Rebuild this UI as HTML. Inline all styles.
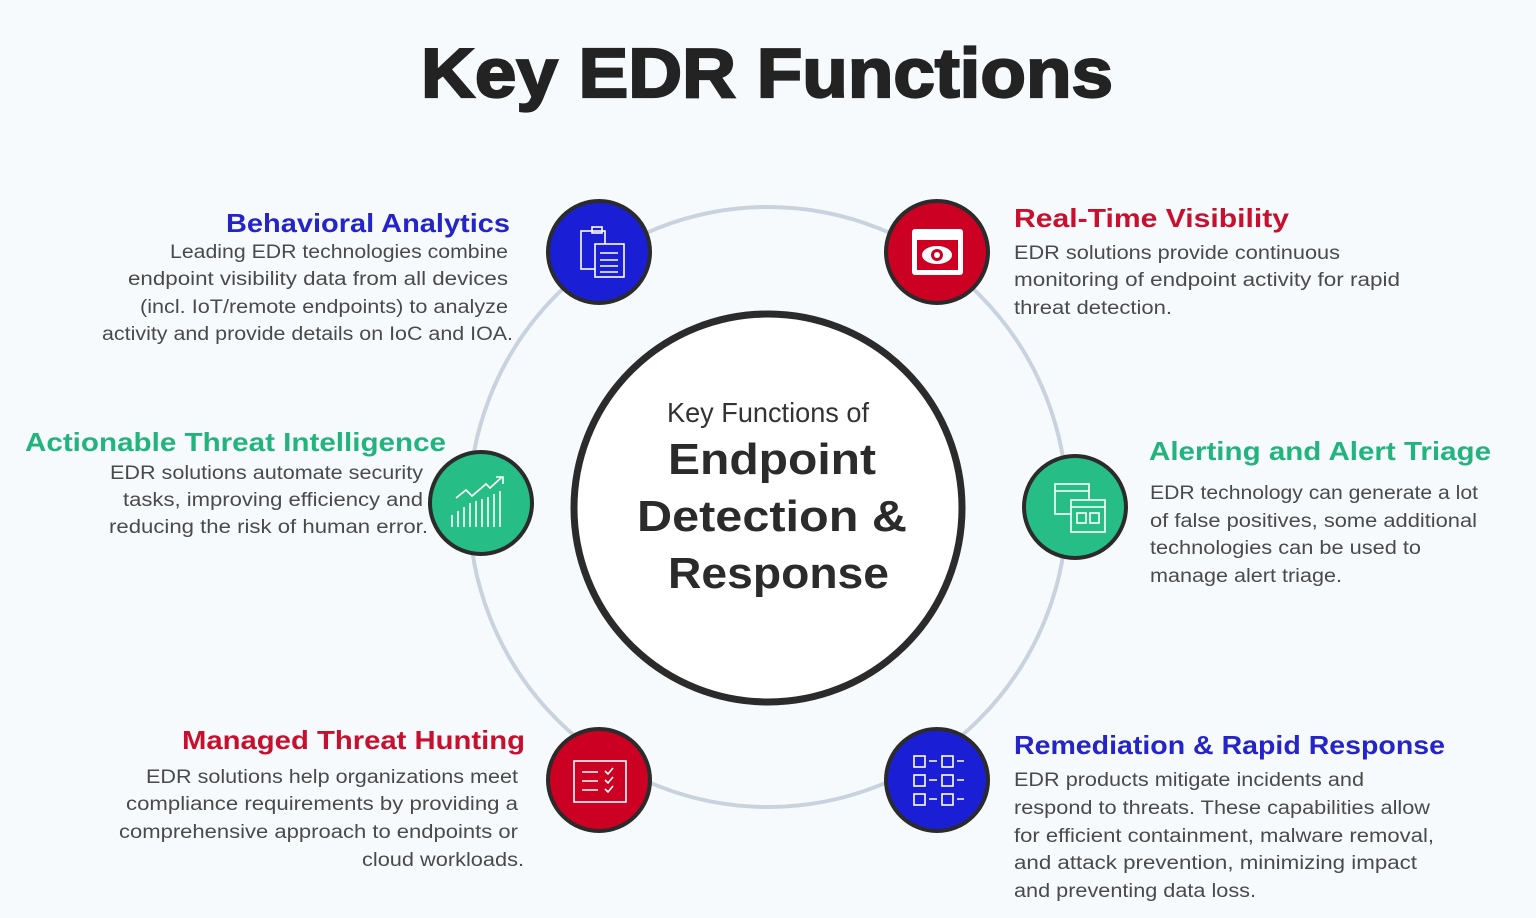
<!DOCTYPE html>
<html><head><meta charset="utf-8"><style>
html,body{margin:0;padding:0;background:#f7fafd;}
svg{display:block}
.b{font-family:"Liberation Sans",sans-serif;font-size:19px;fill:#4a4a4a;}
.h{font-family:"Liberation Sans",sans-serif;font-size:26px;font-weight:bold;}
</style></head><body>
<svg width="1536" height="918" viewBox="0 0 1536 918" xmlns="http://www.w3.org/2000/svg">
<rect width="1536" height="918" fill="#f7fafd"/>
<text x="421" y="97" textLength="692" lengthAdjust="spacingAndGlyphs" font-family="Liberation Sans,sans-serif" font-weight="bold" font-size="70" fill="#232323" stroke="#232323" stroke-width="2.2">Key EDR Functions</text>
<ellipse cx="768" cy="507" rx="299" ry="300" fill="none" stroke="#c9d3de" stroke-width="4"/>
<circle cx="768" cy="508" r="194" fill="#fff" stroke="#2b2b2b" stroke-width="7"/>
<text x="768" y="422" text-anchor="middle" font-family="Liberation Sans,sans-serif" font-size="28" fill="#333" textLength="202" lengthAdjust="spacingAndGlyphs">Key Functions of</text>
<g font-family="Liberation Sans,sans-serif" font-weight="bold" font-size="44" fill="#2b2b2b">
<text x="668" y="474" textLength="208" lengthAdjust="spacingAndGlyphs">Endpoint</text>
<text x="637" y="531" textLength="270" lengthAdjust="spacingAndGlyphs">Detection &amp;</text>
<text x="668" y="588" textLength="221" lengthAdjust="spacingAndGlyphs">Response</text>
</g>
<g stroke="#2b2b2b" stroke-width="4">
<circle cx="599" cy="252" r="51" fill="#1a1fd6"/>
<circle cx="937" cy="252" r="51" fill="#cc0022"/>
<circle cx="481" cy="503" r="51" fill="#26bd86"/>
<circle cx="1075" cy="507" r="51" fill="#26bd86"/>
<circle cx="599" cy="780" r="51" fill="#cc0022"/>
<circle cx="937" cy="780" r="51" fill="#1a1fd6"/>
</g>
<g fill="none" stroke="#fff" stroke-width="1.6">
<rect x="581" y="231" width="24" height="38"/><rect x="592" y="227" width="10" height="6"/>
<rect x="595" y="244" width="29" height="33" fill="#1a1fd6"/>
<path d="M600 253h18M600 260h18M600 266h18M600 272h18"/>
<path d="M452 527v-12M458 527v-16M464 527v-20M470 527v-24M476 527v-26M482 527v-28M488 527v-30M494 527v-33M500 527v-36M456 498l10-8 6 6 14-12 4 4 12-11M496 477h7v7"/>
<rect x="1055" y="484" width="34" height="30"/><path d="M1055 491h34"/>
<rect x="1071" y="500" width="34" height="32" fill="#26bd86"/><path d="M1071 507h34"/>
<rect x="1077" y="513" width="9" height="10"/><rect x="1090" y="513" width="9" height="10"/>
<rect x="574" y="761" width="52" height="41"/><path d="M582 772h16M582 781h16M582 790h16M605 771l3 3 5-6M605 780l3 3 5-6M605 789l3 3 5-6"/>
<g><rect x="914" y="756" width="11" height="11"/><rect x="942" y="756" width="11" height="11"/>
<rect x="914" y="775" width="11" height="11"/><rect x="942" y="775" width="11" height="11"/>
<rect x="914" y="794" width="11" height="11"/><rect x="942" y="794" width="11" height="11"/>
<path d="M929 761h8M957 761h7M929 780h8M957 780h7M929 799h8M957 799h7"/></g>
</g>
<rect x="912" y="229" width="51" height="46" rx="3" fill="#fff"/>
<rect x="917" y="240" width="41" height="30" fill="#cc0022"/>
<ellipse cx="937" cy="255" rx="15" ry="9" fill="#fff"/><circle cx="937" cy="255" r="6" fill="#cc0022"/><circle cx="937" cy="255" r="3" fill="#fff"/>
<text class="h" x="226" y="232" fill="#2424c8" textLength="284" lengthAdjust="spacingAndGlyphs">Behavioral Analytics</text>
<g class="b">
<text x="170" y="258" textLength="338" lengthAdjust="spacingAndGlyphs">Leading EDR technologies combine</text>
<text x="128" y="285" textLength="380" lengthAdjust="spacingAndGlyphs">endpoint visibility data from all devices</text>
<text x="140" y="313" textLength="368" lengthAdjust="spacingAndGlyphs">(incl. IoT/remote endpoints) to analyze</text>
<text x="102" y="340" textLength="411" lengthAdjust="spacingAndGlyphs">activity and provide details on IoC and IOA.</text>
</g>
<text class="h" x="1014" y="227" fill="#c8102e" textLength="275" lengthAdjust="spacingAndGlyphs">Real-Time Visibility</text>
<g class="b">
<text x="1014" y="259" textLength="326" lengthAdjust="spacingAndGlyphs">EDR solutions provide continuous</text>
<text x="1014" y="286" textLength="386" lengthAdjust="spacingAndGlyphs">monitoring of endpoint activity for rapid</text>
<text x="1014" y="314" textLength="158" lengthAdjust="spacingAndGlyphs">threat detection.</text>
</g>
<text class="h" x="25" y="451" fill="#22b47c" textLength="421" lengthAdjust="spacingAndGlyphs">Actionable Threat Intelligence</text>
<g class="b">
<text x="110" y="479" textLength="313" lengthAdjust="spacingAndGlyphs">EDR solutions automate security</text>
<text x="123" y="506" textLength="300" lengthAdjust="spacingAndGlyphs">tasks, improving efficiency and</text>
<text x="109" y="533" textLength="319" lengthAdjust="spacingAndGlyphs">reducing the risk of human error.</text>
</g>
<text class="h" x="1149" y="460" fill="#22b47c" textLength="342" lengthAdjust="spacingAndGlyphs">Alerting and Alert Triage</text>
<g class="b">
<text x="1150" y="499" textLength="328" lengthAdjust="spacingAndGlyphs">EDR technology can generate a lot</text>
<text x="1150" y="527" textLength="327" lengthAdjust="spacingAndGlyphs">of false positives, some additional</text>
<text x="1150" y="554" textLength="271" lengthAdjust="spacingAndGlyphs">technologies can be used to</text>
<text x="1150" y="582" textLength="192" lengthAdjust="spacingAndGlyphs">manage alert triage.</text>
</g>
<text class="h" x="182" y="749" fill="#c8102e" textLength="343" lengthAdjust="spacingAndGlyphs">Managed Threat Hunting</text>
<g class="b">
<text x="146" y="783" textLength="372" lengthAdjust="spacingAndGlyphs">EDR solutions help organizations meet</text>
<text x="126" y="810" textLength="392" lengthAdjust="spacingAndGlyphs">compliance requirements by providing a</text>
<text x="119" y="838" textLength="399" lengthAdjust="spacingAndGlyphs">comprehensive approach to endpoints or</text>
<text x="362" y="866" textLength="162" lengthAdjust="spacingAndGlyphs">cloud workloads.</text>
</g>
<text class="h" x="1014" y="754" fill="#2424c8" textLength="431" lengthAdjust="spacingAndGlyphs">Remediation &amp; Rapid Response</text>
<g class="b">
<text x="1014" y="786" textLength="350" lengthAdjust="spacingAndGlyphs">EDR products mitigate incidents and</text>
<text x="1014" y="814" textLength="416" lengthAdjust="spacingAndGlyphs">respond to threats. These capabilities allow</text>
<text x="1014" y="842" textLength="420" lengthAdjust="spacingAndGlyphs">for efficient containment, malware removal,</text>
<text x="1014" y="869" textLength="403" lengthAdjust="spacingAndGlyphs">and attack prevention, minimizing impact</text>
<text x="1014" y="897" textLength="242" lengthAdjust="spacingAndGlyphs">and preventing data loss.</text>
</g>
</svg>
</body></html>
